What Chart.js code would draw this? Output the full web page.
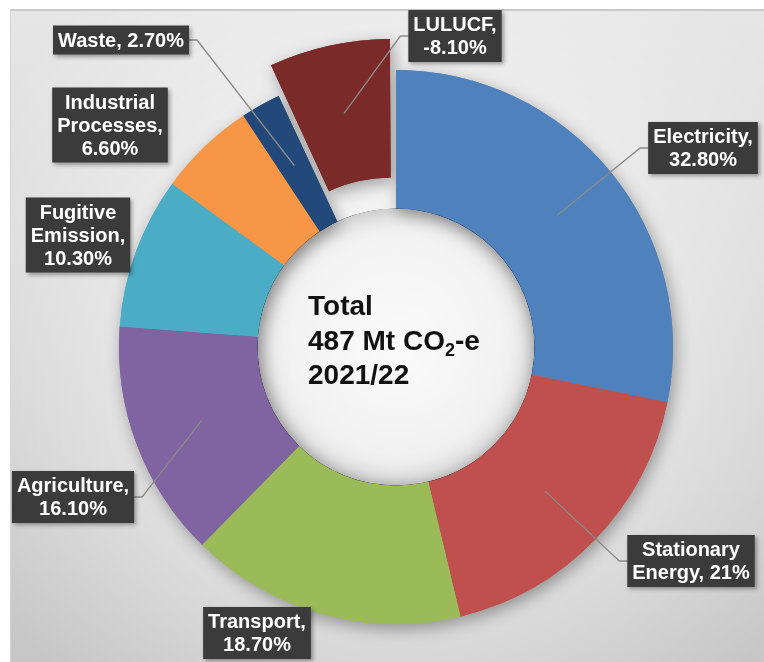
<!DOCTYPE html>
<html>
<head>
<meta charset="utf-8">
<script src="https://cdn.jsdelivr.net/npm/chart.js@4.4.0/dist/chart.umd.min.js"></script>
<style>
html, body { margin: 0; padding: 0; background: #fff; }
#wrap { position: relative; width: 764px; height: 662px; overflow: hidden; }
#bg {
    position: absolute; left: 10px; top: 9px; right: 0; bottom: 0;
    border-top: 2px solid #c9c9c9; border-left: 1px solid #d6d6d6;
    background:
        radial-gradient(circle at 386px 338px, rgba(255,255,255,0.9) 0, rgba(255,255,255,0.45) 230px, rgba(255,255,255,0) 470px),
        linear-gradient(#e6e6e6, #c6c6c6);
}
canvas { position: absolute; left: 0; top: 0; }
</style>
</head>
<body>
<div id="wrap"><div id="bg"></div><canvas id="myChart" width="764" height="662"></canvas></div>
<script>
const categories = [
    'Electricity',
    'Stationary Energy',
    'Transport',
    'Agriculture',
    'Fugitive Emission',
    'Industrial Processes',
    'Waste',
    'LULUCF',
];
const shares = [32.8, 21, 18.7, 16.1, 10.3, 6.6, 2.7, -8.1];
const shareLabels = ['32.80%', '21%', '18.70%', '16.10%', '10.30%', '6.60%', '2.70%', '-8.10%'];
const sliceColors = ['#4f81bd', '#c0504d', '#9bbb59', '#8064a2', '#4bacc6', '#f79646', '#23497a', '#7a2a28'];
const explode = [0, 0, 0, 0, 0, 0, 0, 80];

const centreTitle = 'Total';
const centreTotal = 487;
const centreUnit = ['Mt CO', '2', '-e'];
const centrePeriod = '2021/22';

// where each label box sits (centre, px) and how wide a line may get
const labelLayout = [
    { x: 703, y: 148, wrap: 110, leader: true },
    { x: 691, y: 561, wrap: 125, leader: true },
    { x: 257, y: 633, wrap: 105, leader: false },
    { x: 73, y: 497, wrap: 115, leader: true },
    { x: 78, y: 235, wrap: 100, leader: false },
    { x: 110, y: 125, wrap: 110, leader: false },
    { x: 121, y: 40, wrap: 140, leader: true },
    { x: 455, y: 36, wrap: 90, leader: true },
];

const FONT = '"Liberation Sans", Arial, sans-serif';

function wrapText(ctx, text, maxW) {
    const words = text.split(' ');
    const lines = [];
    let cur = '';
    words.forEach(w => {
        const test = cur ? cur + ' ' + w : w;
        if (cur && ctx.measureText(test).width > maxW) {
            lines.push(cur);
            cur = w;
        } else {
            cur = test;
        }
    });
    if (cur) lines.push(cur);
    return lines;
}

function arcCentre(arc) {
    const p = arc.getProps(['x', 'y', 'startAngle', 'endAngle', 'innerRadius', 'outerRadius', 'circumference']);
    const mid = (p.startAngle + p.endAngle) / 2;
    const t = (arc.options.offset || 0) / 4;
    const fix = 1 - Math.sin(Math.min(Math.PI, p.circumference || 0));
    const r = (p.innerRadius + p.outerRadius) / 2 + t * fix;
    return {
        x: p.x + Math.cos(mid) * (t + r),
        y: p.y + Math.sin(mid) * (t + r),
    };
}

const sliceShadow = {
    id: 'sliceShadow',
    beforeDatasetsDraw(chart) {
        const ctx = chart.ctx;
        ctx.save();
        ctx.shadowColor = 'rgba(0,0,0,0.35)';
        ctx.shadowBlur = 16;
        ctx.shadowOffsetX = 3;
        ctx.shadowOffsetY = 5;
        chart.getDatasetMeta(0).data.forEach(arc => arc.draw(ctx));
        ctx.restore();
    },
    afterDatasetsDraw(chart) {
        const ctx = chart.ctx;
        const arc = chart.getDatasetMeta(0).data[0];
        ctx.save();
        ctx.beginPath();
        ctx.arc(arc.x, arc.y, arc.innerRadius, 0, Math.PI * 2);
        ctx.clip();
        ctx.beginPath();
        ctx.arc(arc.x, arc.y, arc.innerRadius + 20, 0, Math.PI * 2);
        ctx.lineWidth = 40;
        ctx.strokeStyle = '#000';
        ctx.shadowColor = 'rgba(0,0,0,0.28)';
        ctx.shadowBlur = 28;
        ctx.stroke();
        ctx.restore();
    }
};

const boxLabels = {
    id: 'boxLabels',
    afterDraw(chart) {
        const ctx = chart.ctx;
        const meta = chart.getDatasetMeta(0);
        const lineH = 23;

        // centre text
        const c = meta.data[0];
        const left = c.x - 88;
        ctx.save();
        ctx.fillStyle = '#111';
        ctx.textBaseline = 'alphabetic';
        ctx.textAlign = 'left';
        ctx.font = 'bold 28px ' + FONT;
        ctx.fillText(centreTitle, left, c.y - 32);
        let s = centreTotal + ' ' + centreUnit[0];
        ctx.fillText(s, left, c.y + 3);
        let xx = left + ctx.measureText(s).width;
        ctx.font = 'bold 18px ' + FONT;
        ctx.fillText(centreUnit[1], xx, c.y + 9);
        xx += ctx.measureText(centreUnit[1]).width;
        ctx.font = 'bold 28px ' + FONT;
        ctx.fillText(centreUnit[2], xx, c.y + 3);
        ctx.fillText(centrePeriod, left, c.y + 37);
        ctx.restore();

        ctx.save();
        ctx.font = 'bold 20px ' + FONT;
        meta.data.forEach((arc, i) => {
            const lay = labelLayout[i];
            const lines = wrapText(ctx, categories[i] + ', ' + shareLabels[i], lay.wrap);
            let w = 0;
            lines.forEach(l => { w = Math.max(w, ctx.measureText(l).width); });
            const bw = w + 10;
            const bh = lines.length * lineH + 6;
            const bx = lay.x - bw / 2;
            const by = lay.y - bh / 2;

            if (lay.leader) {
                const a = arcCentre(arc);
                const edgeX = a.x > lay.x ? bx + bw : bx;
                const elbowX = a.x > lay.x ? edgeX + 8 : edgeX - 8;
                ctx.beginPath();
                ctx.moveTo(a.x, a.y);
                ctx.lineTo(elbowX, lay.y);
                ctx.lineTo(edgeX, lay.y);
                ctx.strokeStyle = '#8a8a8a';
                ctx.lineWidth = 1.3;
                ctx.stroke();
            }

            ctx.save();
            ctx.shadowColor = 'rgba(0,0,0,0.35)';
            ctx.shadowBlur = 4;
            ctx.shadowOffsetX = 2;
            ctx.shadowOffsetY = 2;
            ctx.fillStyle = '#3b3b3b';
            ctx.fillRect(bx, by, bw, bh);
            ctx.restore();

            ctx.fillStyle = '#ffffff';
            ctx.textAlign = 'center';
            ctx.textBaseline = 'middle';
            lines.forEach((l, k) => {
                ctx.fillText(l, lay.x, by + 3 + lineH * (k + 0.5) + 1);
            });
        });
        ctx.restore();
    }
};

new Chart(document.getElementById('myChart'), {
    type: 'doughnut',
    data: {
        labels: categories,
        datasets: [{
            data: shares.map(v => Math.abs(v)),
            backgroundColor: sliceColors,
            borderWidth: 0,
            offset: explode,
            hoverOffset: 0,
        }]
    },
    options: {
        responsive: false,
        animation: false,
        radius: 277,
        cutout: '50%',
        layout: { padding: { left: 28, right: 0, top: 32, bottom: 0 } },
        plugins: {
            legend: { display: false },
            tooltip: { enabled: false },
        }
    },
    plugins: [sliceShadow, boxLabels]
});
</script>
</body>
</html>
